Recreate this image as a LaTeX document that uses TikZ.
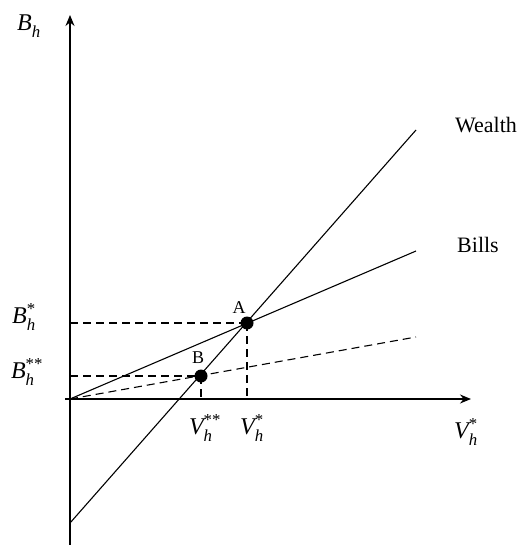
\documentclass[tikz,border=0pt]{standalone}
\usepackage{amsmath}
\usepackage{fontspec}
\setmainfont{Liberation Serif}
\usetikzlibrary{arrows.meta}
\newcommand{\vlab}[3]{$\textit{#1}_{\textit{#2}}^{\text{#3}}$}
\begin{document}
\begin{tikzpicture}[x=1pt,y=-1pt,
  axis/.style={line width=1.4pt,-{Stealth[length=11pt,width=9pt]}},
  curve/.style={line width=1.1pt},
  guide/.style={line width=1.1pt,dash pattern=on 8pt off 5pt},
  dot/.style={circle,fill=black,inner sep=0pt,minimum size=13pt},
  lbl/.style={font=\fontsize{22}{26}\selectfont,inner sep=0pt},
  mlbl/.style={font=\fontsize{24}{28}\selectfont,inner sep=0pt},
  small/.style={font=\fontsize{18}{21}\selectfont,inner sep=0pt}]
\useasboundingbox (0,0) rectangle (521,545);
% coordinates
\coordinate (O) at (70,399);
\coordinate (ytop) at (70,15);
\coordinate (ybot) at (70,545);
\coordinate (xleft) at (65,399);
\coordinate (xright) at (471,399);
\coordinate (w0) at (70,523);
\coordinate (w1) at (416,130);
\coordinate (b1) at (416,251);
\coordinate (d1) at (416,337);
\coordinate (yA) at (70,323);
\coordinate (xA) at (247,399);
\coordinate (yB) at (70,376);
\coordinate (xB) at (201,399);
% axes
\draw[axis] (ybot) -- (ytop);
\draw[axis] (xleft) -- (xright);
% lines
\draw[curve] (w0) -- (w1);
\draw[curve] (O) -- (b1);
\draw[guide] (O) -- (d1);
% points
\node[dot] (A) at (247,323) {};
\node[dot] (B) at (201,376) {};
\draw[guide] (yA) -- (A.center);
\draw[guide] (A.center) -- (xA);
\draw[guide] (yB) -- (B.center);
\draw[guide] (B.center) -- (xB);
% labels
\node[mlbl] (lBh) at (29,26) {\vlab{B}{h}{}};
\node[mlbl] (lBs) at (24,317) {\vlab{B}{h}{*}};
\node[mlbl] (lBss) at (27,372) {\vlab{B}{h}{**}};
\node[small] (lA) at (239,308) {A};
\node[small] (lB) at (198,358) {B};
\node[mlbl] (lVss) at (205,428) {\vlab{V}{h}{**}};
\node[mlbl] (lVs) at (252,428) {\vlab{V}{h}{*}};
\node[mlbl] (lVx) at (466,432) {\vlab{V}{h}{*}};
\node[lbl] (lW) at (486,125) {Wealth};
\node[lbl] (lBi) at (478,245) {Bills};
\end{tikzpicture}
\end{document}
